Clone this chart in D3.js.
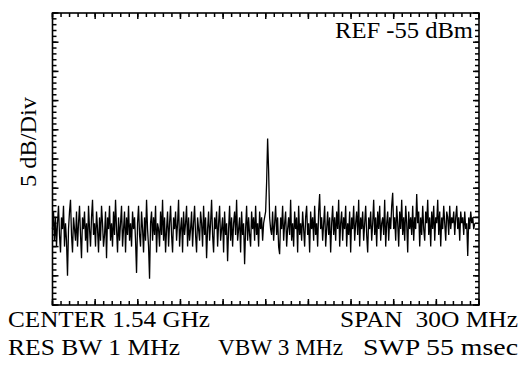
<!DOCTYPE html>
<html>
<head>
<meta charset="utf-8">
<script src="https://cdn.jsdelivr.net/npm/d3@7"></script>
<style>
  body { margin: 0; background: #fff; }
  svg { display: block; }
  text { font-family: "Liberation Serif", "Times New Roman", serif; fill: #000; white-space: pre; }
</style>
</head>
<body>
<div id="chart"></div>
<script>
// sweep: 1.54 GHz centre, 300 MHz span, trace ends a little short of the right edge
const sweepStartMHz = 1390;
const sweepStopMHz = 1687;
const freqDomain = [1390, 1690];
const levelDomain = [-105, -55];   // REF -55 dBm, 10 div x 5 dB
const majorFreqTicks = d3.range(1390, 1691, 30);
const minorFreqTicks = d3.range(1390, 1691, 6);
const majorLevelTicks = d3.range(-105, -54, 5);
const minorLevelTicks = d3.range(-105, -54, 1);

// trace levels in dBm (about one point per pixel)
const levels = [
  -92, -89, -94, -90, -95, -91, -88, -93, -96, -90, -92, -88, -95, -91, -94, -100, -92, -89, -87, -93,
  -96, -90, -92, -94, -89, -95, -91, -88, -93, -97, -90, -92, -89, -94, -91, -96, -88, -92, -95, -90,
  -87, -93, -91, -95, -89, -92, -96, -90, -94, -88, -91, -95, -93, -89, -97, -90, -92, -88, -94, -91,
  -95, -89, -93, -87, -92, -96, -90, -94, -91, -88, -95, -92, -89, -96, -90, -93, -88, -94, -91, -95,
  -89, -92, -90, -94, -99.5, -91, -88, -93, -95, -89, -92, -96, -90, -94, -87, -92, -95, -100.5, -91, -89,
  -94, -90, -93, -88, -96, -91, -92, -95, -89, -93, -87, -94, -90, -96, -92, -89, -95, -91, -88, -93,
  -96, -90, -92, -89, -94, -91, -87, -95, -92, -90, -96, -89, -93, -91, -88, -95, -90, -94, -92, -89,
  -95, -91, -88, -93, -96, -90, -92, -94, -89, -91, -95, -88, -93, -90, -97, -92, -89, -94, -91, -87,
  -93, -96, -90, -92, -89, -95, -91, -88, -94, -92, -90, -96, -89, -93, -91, -97.5, -92, -88, -94, -90,
  -95, -91, -89, -93, -87, -94, -92, -90, -96, -89, -93, -91, -98, -92, -88, -94, -90, -93, -95, -89,
  -92, -90, -94, -88, -93, -91, -95, -89, -92, -90, -94, -91, -90, -89, -84, -76.5, -82, -90, -92, -93,
  -89, -94, -91, -88, -93, -90, -95, -96.3, -90, -92, -88, -94, -91, -89, -95, -92, -90, -93, -87, -94,
  -91, -95, -89, -92, -90, -96, -88, -93, -91, -94, -89, -92, -95, -90, -88, -93, -91, -96, -89, -92,
  -90, -94, -88, -93, -91, -95, -89, -86, -92, -90, -94, -91, -88, -95, -92, -89, -93, -90, -96, -91,
  -88, -93, -90, -94, -89, -92, -87, -95, -91, -89, -94, -90, -92, -88, -95, -91, -93, -89, -96, -90,
  -92, -88, -94, -91, -89, -93, -87, -95, -90, -92, -89, -94, -91, -88, -93, -96, -90, -92, -89, -94,
  -91, -87, -93, -90, -95, -89, -92, -88, -94, -91, -90, -93, -87, -95, -91, -89, -94, -90, -92, -88,
  -85.8, -92, -90, -94, -88, -91, -95, -89, -92, -87, -93, -90, -94, -88, -91, -96, -89, -92, -90, -93,
  -88, -94, -90, -92, -86, -91, -89, -95, -90, -93, -88, -92, -94, -89, -91, -87, -93, -90, -95, -89,
  -92, -88, -94, -90, -91, -87, -93, -89, -95, -90, -92, -88, -91, -94, -89, -90, -93, -88, -92, -90,
  -91, -89, -93, -90, -88, -92, -90, -94, -89, -91, -90, -93, -89, -92, -91, -96.6, -90, -92, -89, -91,
  -90, -92, -91
];

const refLabel = "REF -55 dBm";
const yLabel = "5 dB/Div";
const footerTop = ["CENTER 1.54 GHz", "SPAN  30O MHz"];
const footerBottom = ["RES BW 1 MHz", "VBW 3 MHz", "SWP 55 msec"];

const W = 521, H = 367;
const plot = { left: 52.5, right: 479, top: 13, bottom: 305 };

const svg = d3.select("#chart").append("svg")
  .attr("width", W)
  .attr("height", H);

const x = d3.scaleLinear().domain(freqDomain).range([plot.left, plot.right]);
const y = d3.scaleLinear().domain(levelDomain).range([plot.bottom, plot.top]);

const sampleFreq = d3.scaleLinear()
  .domain([0, levels.length - 1])
  .range([sweepStartMHz, sweepStopMHz]);

// inward graticule ticks on all four sides
const ticks = svg.append("g").attr("stroke", "#000").attr("stroke-width", 1.5);

function levelTicks(values, len) {
  ticks.selectAll(null).data(values).join("line")
    .attr("x1", plot.left).attr("x2", plot.left + len)
    .attr("y1", d => y(d)).attr("y2", d => y(d));
  ticks.selectAll(null).data(values).join("line")
    .attr("x1", plot.right).attr("x2", plot.right - len)
    .attr("y1", d => y(d)).attr("y2", d => y(d));
}
function freqTicks(values, len) {
  ticks.selectAll(null).data(values).join("line")
    .attr("y1", plot.top).attr("y2", plot.top + len)
    .attr("x1", d => x(d)).attr("x2", d => x(d));
  ticks.selectAll(null).data(values).join("line")
    .attr("y1", plot.bottom).attr("y2", plot.bottom - len)
    .attr("x1", d => x(d)).attr("x2", d => x(d));
}
levelTicks(minorLevelTicks, 4);
levelTicks(majorLevelTicks, 6);
freqTicks(minorFreqTicks, 4);
freqTicks(majorFreqTicks, 6);

svg.append("rect")
  .attr("x", plot.left)
  .attr("y", plot.top)
  .attr("width", plot.right - plot.left)
  .attr("height", plot.bottom - plot.top)
  .attr("fill", "none")
  .attr("stroke", "#000")
  .attr("stroke-width", 1.6);

const line = d3.line()
  .x((d, i) => x(sampleFreq(i)))
  .y(d => y(d));

svg.append("path")
  .datum(levels)
  .attr("d", line)
  .attr("fill", "none")
  .attr("stroke", "#000")
  .attr("stroke-width", 1.3)
  .attr("stroke-linejoin", "miter");

function label(str, xPos, yPos, len, size) {
  return svg.append("text")
    .attr("x", xPos).attr("y", yPos)
    .attr("font-size", size)
    .attr("textLength", len)
    .attr("lengthAdjust", "spacingAndGlyphs")
    .text(str);
}

label(refLabel, 335, 38, 138, 23);

svg.append("text")
  .attr("transform", "translate(36,187) rotate(-90)")
  .attr("font-size", 23)
  .attr("textLength", 90)
  .attr("lengthAdjust", "spacingAndGlyphs")
  .text(yLabel);

label(footerTop[0], 8, 327, 202, 23);
label(footerTop[1], 340, 327, 178, 23);

label(footerBottom[0], 8, 355, 172, 23);
label(footerBottom[1], 218, 355, 125, 23);
label(footerBottom[2], 363, 355, 155, 23);
</script>
</body>
</html>
